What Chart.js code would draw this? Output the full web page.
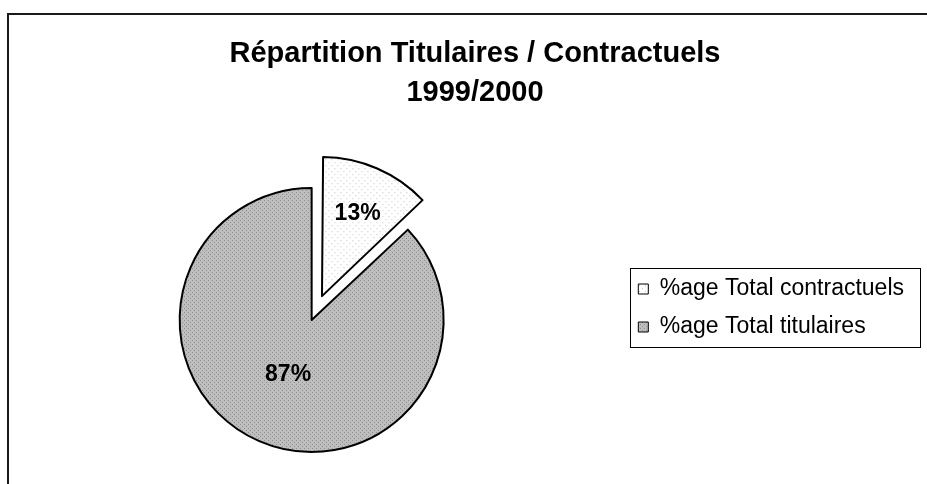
<!DOCTYPE html>
<html>
<head>
<meta charset="utf-8">
<script src="https://cdn.jsdelivr.net/npm/chart.js@4.4.1/dist/chart.umd.min.js"></script>
<style>
  html, body { margin: 0; padding: 0; background: #ffffff; overflow: hidden; }
  canvas { display: block; }
</style>
</head>
<body>
<canvas id="c" width="927" height="484"></canvas>
<script>
// ---- data ----
const categories = ['%age Total contractuels', '%age Total titulaires'];
const values = [13, 87];
const valueLabels = ['13%', '87%'];
const titleLines = ['Répartition Titulaires / Contractuels', '1999/2000'];
const explodeOffsets = [104, 0];

const FONT = "'Liberation Sans', Arial, Helvetica, sans-serif";
// outer chart frame (its right/bottom edges lie outside the visible window)
const FRAME = { left: 8, top: 14, right: 942, bottom: 600 };

// dotted fill patterns (Excel-like)
function makePattern(size, base, dot, dots) {
  const c = document.createElement('canvas');
  c.width = size; c.height = size;
  const g = c.getContext('2d');
  g.fillStyle = base; g.fillRect(0, 0, size, size);
  g.fillStyle = dot;
  dots.forEach(([x, y]) => g.fillRect(x, y, 1, 1));
  return document.createElement('canvas').getContext('2d').createPattern(c, 'repeat');
}
const lightPattern = makePattern(6, '#ffffff', '#c4c4c4', [[0, 0], [3, 3]]);
const grayPattern = makePattern(4, '#bebebe', '#8e8e8e', [[0, 0], [2, 2]]);

const framePlugin = {
  id: 'frame',
  afterLayout(chart) {
    // centre the title over the whole chart frame
    const t = chart.titleBlock;
    if (t) {
      const w = t.right - t.left;
      const cx = (FRAME.left + FRAME.right) / 2;
      t.left = cx - w / 2;
      t.right = t.left + w;
    }
  },
  beforeDraw(chart) {
    const ctx = chart.ctx;
    ctx.save();
    ctx.strokeStyle = '#1a1a1a';
    ctx.lineWidth = 2;
    ctx.strokeRect(FRAME.left, FRAME.top, FRAME.right - FRAME.left, FRAME.bottom - FRAME.top);
    ctx.restore();
  }
};

const legendBoxPlugin = {
  id: 'legendBox',
  afterDraw(chart) {
    const lg = chart.legend;
    if (!lg || !lg.legendHitBoxes || !lg.legendHitBoxes.length) return;
    const hb = lg.legendHitBoxes;
    const left = Math.min(...hb.map(h => h.left)) - 8;
    const right = Math.max(...hb.map(h => h.left + h.width)) + 16;
    const top = hb[0].top - 10;
    const last = hb[hb.length - 1];
    const bottom = last.top + last.height + 8;
    const ctx = chart.ctx;
    ctx.save();
    ctx.strokeStyle = '#000';
    ctx.lineWidth = 1;
    ctx.strokeRect(Math.round(left) + 0.5, Math.round(top) + 0.5, Math.round(right - left), Math.round(bottom - top));
    ctx.restore();
  }
};

const sliceLabelPlugin = {
  id: 'sliceLabels',
  afterDatasetsDraw(chart) {
    const meta = chart.getDatasetMeta(0);
    const ctx = chart.ctx;
    ctx.save();
    ctx.font = 'bold 23px ' + FONT;
    ctx.fillStyle = '#000';
    ctx.textAlign = 'center';
    ctx.textBaseline = 'middle';
    meta.data.forEach((arc, i) => {
      const p = arc.getProps(['x', 'y', 'startAngle', 'endAngle', 'outerRadius', 'circumference'], true);
      const mid = (p.startAngle + p.endAngle) / 2;
      const off = (arc.options.offset || 0) / 4;
      const ratio = p.circumference < Math.PI ? 0.68 : 0.45;
      const r = off + p.outerRadius * ratio;
      ctx.fillText(valueLabels[i], p.x + Math.cos(mid) * r, p.y + Math.sin(mid) * r);
    });
    ctx.restore();
  }
};

new Chart(document.getElementById('c'), {
  type: 'pie',
  data: {
    labels: categories,
    datasets: [{
      data: values,
      backgroundColor: [lightPattern, grayPattern],
      borderColor: '#000',
      borderWidth: 2,
      borderJoinStyle: 'round',
      offset: explodeOffsets,
      hoverOffset: 0,
      radius: 132
    }]
  },
  options: {
    responsive: false,
    devicePixelRatio: 1,
    animation: false,
    events: [],
    layout: { padding: { top: 0, left: 0, right: 13, bottom: 106.5 } },
    plugins: {
      tooltip: { enabled: false },
      title: {
        display: true,
        text: titleLines,
        color: '#000',
        font: { family: FONT, size: 29, weight: 'bold', lineHeight: '39px' },
        padding: { top: 34, bottom: 150.5 }
      },
      legend: {
        display: true,
        position: 'right',
        align: 'start',
        fullSize: false,
        labels: {
          boxWidth: 10,
          boxHeight: 10,
          padding: 15,
          color: '#000',
          font: { family: FONT, size: 23 },
          generateLabels(chart) {
            return Chart.overrides.pie.plugins.legend.labels.generateLabels(chart)
              .map(l => Object.assign(l, { lineWidth: 1, strokeStyle: '#000' }));
          }
        }
      }
    }
  },
  plugins: [framePlugin, sliceLabelPlugin, legendBoxPlugin]
});
</script>
</body>
</html>
